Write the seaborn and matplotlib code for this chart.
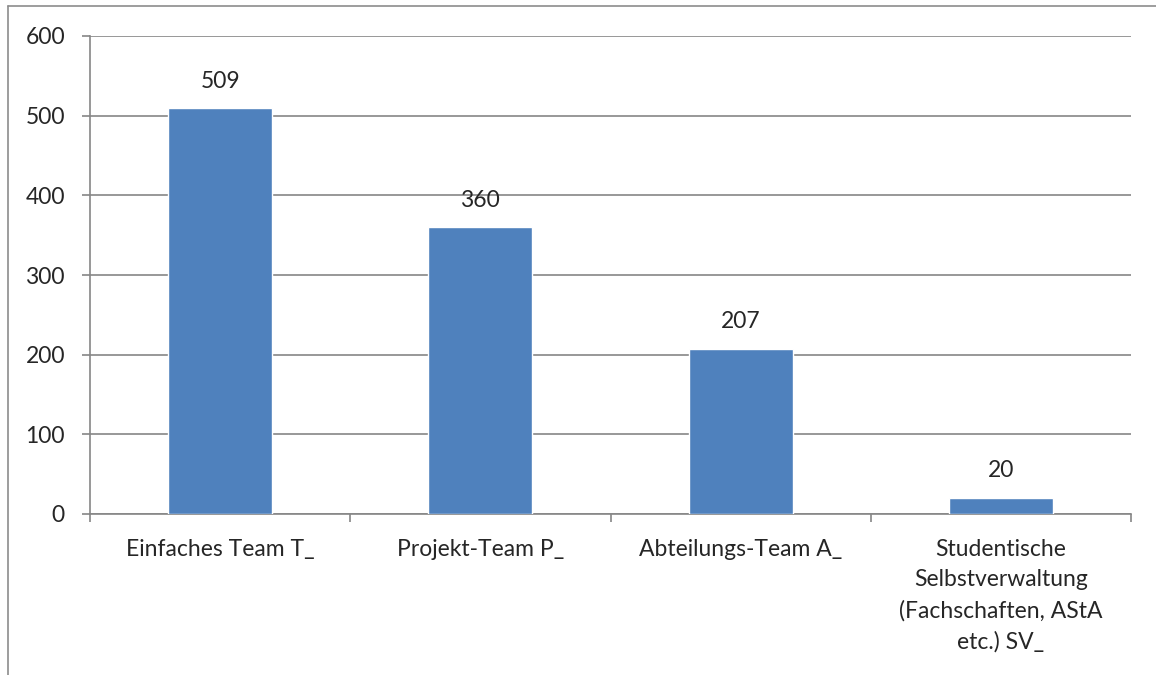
import pandas as pd
import seaborn as sns
import matplotlib.pyplot as plt
from matplotlib.lines import Line2D

# Chart data
categories = ['Einfaches Team T_', 'Projekt-Team P_', 'Abteilungs-Team A_',
              'Studentische\nSelbstverwaltung\n(Fachschaften, AStA\netc.) SV_']
counts = [509, 360, 207, 20]

df = pd.DataFrame({'team': categories, 'count': counts})

sns.set_style('white')
plt.rcParams['font.family'] = ['Lato', 'DejaVu Sans']

fig = plt.figure(figsize=(11.56, 6.75), dpi=100)
ax = fig.add_axes([90 / 1156, 1 - 514 / 675, 1041 / 1156, 478 / 675])

sns.barplot(data=df, x='team', y='count', color='#4F81BD', width=0.4,
            saturation=1, ax=ax, zorder=3)

grey = '#868686'
fs = 16.5
ax.set_ylim(0, 600)
ax.set_xlim(-0.5, len(categories) - 0.5)
ax.set_yticks(range(0, 601, 100))
ax.yaxis.grid(True, color=grey, linewidth=1.2, zorder=0)
ax.set_xlabel('')
ax.set_ylabel('')

# category labels centred, ticks on boundaries (Excel style)
ax.set_xticks([i - 0.5 for i in range(len(categories) + 1)])
ax.set_xticklabels([])
ax.set_xticks(range(len(categories)), minor=True)
ax.set_xticklabels(categories, minor=True, fontsize=fs, linespacing=1.55)
ax.tick_params(axis='x', which='major', length=6, width=1.2, color=grey, direction='out')
ax.tick_params(axis='x', which='minor', length=0, pad=18)
ax.tick_params(axis='y', length=6, width=1.2, color=grey, direction='out', labelsize=fs, pad=12)
ax.tick_params(bottom=True, left=True, which='both')

for s in ['top', 'right']:
    ax.spines[s].set_visible(False)
for s in ['left', 'bottom']:
    ax.spines[s].set_color(grey)
    ax.spines[s].set_linewidth(1.2)

# value labels
for i, v in enumerate(counts):
    ax.annotate(str(v), (i, v), xytext=(0, 12), textcoords='offset points',
                ha='center', va='bottom', fontsize=fs)

# outer chart border (partly cropped in the original)
fig.add_artist(Line2D([7.5 / 1156, 7.5 / 1156], [0, 1 - 6 / 675],
                      transform=fig.transFigure, color='#8c8c8c', linewidth=1.2))
fig.add_artist(Line2D([7.5 / 1156, 1], [1 - 6 / 675, 1 - 6 / 675],
                      transform=fig.transFigure, color='#8c8c8c', linewidth=1.2))

fig.savefig('out.png', dpi=100, facecolor='white')
